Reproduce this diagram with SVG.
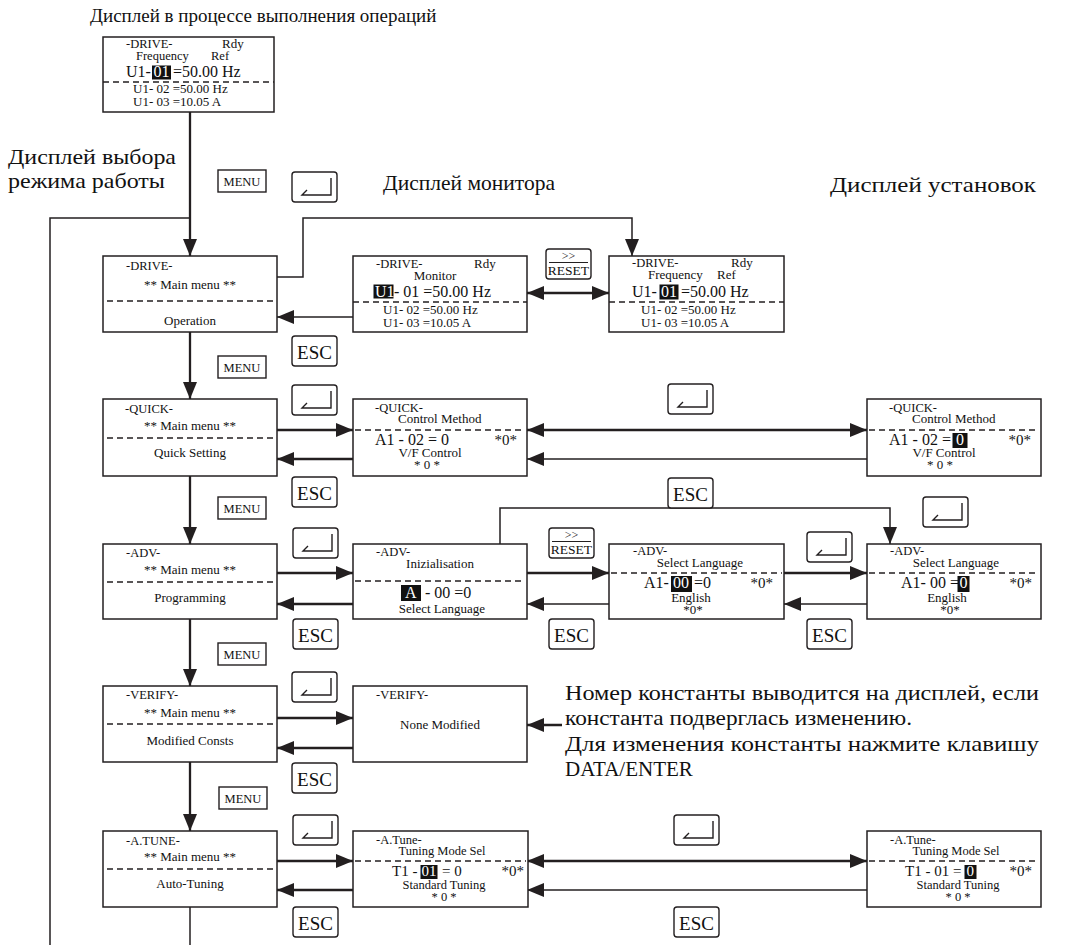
<svg xmlns="http://www.w3.org/2000/svg" xmlns:xlink="http://www.w3.org/1999/xlink" width="1068" height="945" viewBox="0 0 1068 945">
<style>
  text { font-family: "Liberation Serif", "Times New Roman", serif; fill: #111; }
  .box { fill: #fff; stroke: #231f20; stroke-width: 1.5; }
  .dash { stroke: #231f20; stroke-width: 1.4; stroke-dasharray: 6 4; fill: none; }
  .s { font-size: 13px; }
  .r { font-size: 12.5px; }
  .t { font-size: 12.5px; }
  .m { font-size: 16px; }
  .n { font-size: 15px; }
  .z { font-size: 15px; }
  .c { text-anchor: middle; }
  .e { text-anchor: end; }
  .w { fill: #fff; }
  .hl { fill: #111; }
  .key { fill: #fff; stroke: #231f20; stroke-width: 1.4; }
  .thick { fill: none; stroke: #231f20; stroke-width: 2.3; }
  .thin { fill: none; stroke: #231f20; stroke-width: 1.5; }
  .lab { font-size: 21px; }
  .ttl { font-size: 19px; }
</style>
<defs>
  <marker id="ah" markerUnits="userSpaceOnUse" markerWidth="17" markerHeight="14" refX="17" refY="7" orient="auto-start-reverse">
    <path d="M0,0 L17,7 L0,14 Z" fill="#231f20"/>
  </marker>
  <!-- keypad keys -->
  <g id="kEnter">
    <rect x="0" y="0" width="45" height="30" rx="3" class="key"/>
    <path d="M39,6 V23 H10 L15,18" fill="none" stroke="#231f20" stroke-width="1.4"/>
  </g>
  <g id="kEsc">
    <rect x="0" y="0" width="45" height="30" rx="3" class="key"/>
    <text x="22.5" y="23" class="c" font-size="19">ESC</text>
  </g>
  <g id="kMenu">
    <rect x="0" y="0" width="48" height="22" class="key"/>
    <text x="24" y="16" class="c" font-size="12.5">MENU</text>
  </g>
  <g id="kReset">
    <rect x="0" y="0" width="45" height="30" rx="3" class="key"/>
    <text x="22.5" y="11" class="c" font-size="12">&gt;&gt;</text>
    <line x1="3" y1="13.5" x2="42" y2="13.5" stroke="#231f20" stroke-width="1.2"/>
    <text x="22.5" y="26" class="c" font-size="13.5">RESET</text>
  </g>
</defs>

<rect width="1068" height="945" fill="#fff"/>

<!-- captions -->
<g id="captions">
  <text x="90" y="22" class="ttl">Дисплей в процессе выполнения операций</text>
  <text x="8" y="164" class="lab" font-size="22" textLength="168" lengthAdjust="spacingAndGlyphs">Дисплей выбора</text>
  <text x="8" y="188" class="lab" font-size="22" textLength="157" lengthAdjust="spacingAndGlyphs">режима работы</text>
  <text x="383" y="190" class="lab" textLength="172" lengthAdjust="spacingAndGlyphs">Дисплей монитора</text>
  <text x="830" y="192" class="lab" textLength="206" lengthAdjust="spacingAndGlyphs">Дисплей установок</text>
  <text x="565" y="700" class="lab" textLength="474" lengthAdjust="spacingAndGlyphs">Номер константы выводится на дисплей, если</text>
  <text x="565" y="725" class="lab" textLength="347" lengthAdjust="spacingAndGlyphs">константа подверглась изменению.</text>
  <text x="565" y="751" class="lab" textLength="474" lengthAdjust="spacingAndGlyphs">Для изменения константы нажмите клавишу</text>
  <text x="565" y="776" class="lab">DATA/ENTER</text>
</g>

<!-- connectors -->
<g id="connectors">
  <path d="M190,218 H50 V945" class="thin"/>
  <path d="M190,112 V256" class="thick" marker-end="url(#ah)"/>
  <path d="M277,277 H303 V218 H632 V256" class="thin" marker-end="url(#ah)"/>
  <path d="M353,317 H277" class="thin" marker-end="url(#ah)"/>
  <path d="M527,293 H609" class="thick" marker-start="url(#ah)" marker-end="url(#ah)"/>

  <path d="M190,332 V399" class="thick" marker-end="url(#ah)"/>
  <path d="M277,430 H353" class="thick" marker-end="url(#ah)"/>
  <path d="M353,459 H277" class="thick" marker-end="url(#ah)"/>
  <path d="M527,430 H867" class="thick" marker-start="url(#ah)" marker-end="url(#ah)"/>
  <path d="M867,459 H527" class="thin" marker-end="url(#ah)"/>

  <path d="M190,476 V544" class="thick" marker-end="url(#ah)"/>
  <path d="M277,573 H353" class="thick" marker-end="url(#ah)"/>
  <path d="M353,604 H277" class="thick" marker-end="url(#ah)"/>
  <path d="M527,573 H609" class="thick" marker-end="url(#ah)"/>
  <path d="M609,604 H527" class="thin" marker-end="url(#ah)"/>
  <path d="M784,573 H867" class="thick" marker-end="url(#ah)"/>
  <path d="M867,604 H784" class="thin" marker-end="url(#ah)"/>
  <path d="M500,544 V508 H890 V544" class="thin" marker-end="url(#ah)"/>

  <path d="M190,619 V686" class="thick" marker-end="url(#ah)"/>
  <path d="M277,718 H353" class="thick" marker-end="url(#ah)"/>
  <path d="M353,748 H277" class="thick" marker-end="url(#ah)"/>
  <path d="M562,725 H527" class="thick" marker-end="url(#ah)"/>

  <path d="M190,762 V831" class="thick" marker-end="url(#ah)"/>
  <path d="M277,861 H353" class="thick" marker-end="url(#ah)"/>
  <path d="M353,890 H277" class="thick" marker-end="url(#ah)"/>
  <path d="M527,861 H867" class="thick" marker-start="url(#ah)" marker-end="url(#ah)"/>
  <path d="M867,890 H527" class="thin" marker-end="url(#ah)"/>
  <path d="M190,907 V945" class="thin"/>
</g>

<!-- keys -->
<g id="keys">
  <use xlink:href="#kMenu" x="218" y="170"/>
  <use xlink:href="#kEnter" x="292" y="172"/>
  <use xlink:href="#kEsc" x="292" y="336"/>
  <use xlink:href="#kReset" x="546" y="249"/>
  <use xlink:href="#kMenu" x="218" y="356"/>
  <use xlink:href="#kEnter" x="292" y="385"/>
  <use xlink:href="#kEsc" x="292" y="477"/>
  <use xlink:href="#kEnter" x="668" y="384"/>
  <use xlink:href="#kEsc" x="668" y="478"/>
  <use xlink:href="#kMenu" x="218" y="497"/>
  <use xlink:href="#kEnter" x="293" y="528"/>
  <use xlink:href="#kEsc" x="293" y="619"/>
  <use xlink:href="#kReset" x="549" y="528"/>
  <use xlink:href="#kEsc" x="549" y="619"/>
  <use xlink:href="#kEnter" x="807" y="532"/>
  <use xlink:href="#kEsc" x="807" y="619"/>
  <use xlink:href="#kEnter" x="923" y="497"/>
  <use xlink:href="#kMenu" x="218" y="643"/>
  <use xlink:href="#kEnter" x="292" y="672"/>
  <use xlink:href="#kEsc" x="292" y="763"/>
  <use xlink:href="#kMenu" x="219" y="787"/>
  <use xlink:href="#kEnter" x="293" y="815"/>
  <use xlink:href="#kEsc" x="293" y="907"/>
  <use xlink:href="#kEnter" x="674" y="815"/>
  <use xlink:href="#kEsc" x="674" y="907"/>
</g>

<!-- operation display -->
<g id="op-display">
  <rect x="103" y="37" width="171" height="75" class="box"/>
  <text x="126" y="47.5" class="t">-DRIVE-</text>
  <text x="222" y="47.5" class="s">Rdy</text>
  <text x="136" y="59.5" class="r">Frequency</text>
  <text x="211" y="59.5" class="r">Ref</text>
  <text x="126" y="77" class="m">U1-</text>
  <rect x="152" y="65.5" width="19" height="14" class="hl"/>
  <text x="153.5" y="77" class="m w">01</text>
  <text x="173" y="77" class="m">=50.00 Hz</text>
  <line x1="103" y1="82" x2="274" y2="82" class="dash"/>
  <text x="133" y="93" class="s">U1- 02 =50.00 Hz</text>
  <text x="133" y="106" class="s">U1- 03 =10.05 A</text>
</g>

<!-- main menu: drive -->
<g id="menu-drive">
  <rect x="103" y="256" width="174" height="76" class="box"/>
  <text x="126" y="270" class="t">-DRIVE-</text>
  <text x="190" y="289" class="s c">** Main menu **</text>
  <line x1="107" y1="301" x2="273" y2="301" class="dash"/>
  <text x="190" y="325" class="s c">Operation</text>
</g>

<g id="monitor">
  <rect x="353" y="256" width="174" height="76" class="box"/>
  <text x="376" y="268" class="t">-DRIVE-</text>
  <text x="474" y="268" class="s">Rdy</text>
  <text x="435" y="280" class="s c">Monitor</text>
  <rect x="373.5" y="284.5" width="20" height="14" class="hl"/>
  <text x="375" y="297" class="m w">U1</text>
  <text x="394" y="297" class="m">- 01 =50.00 Hz</text>
  <line x1="353" y1="302" x2="527" y2="302" class="dash"/>
  <text x="383" y="314" class="s">U1- 02 =50.00 Hz</text>
  <text x="383" y="327" class="s">U1- 03 =10.05 A</text>
</g>

<g id="settings">
  <rect x="609" y="256" width="175" height="76" class="box"/>
  <text x="632" y="267" class="t">-DRIVE-</text>
  <text x="731" y="267" class="s">Rdy</text>
  <text x="648" y="279" class="s">Frequency</text>
  <text x="717" y="279" class="s">Ref</text>
  <text x="632" y="297" class="m">U1-</text>
  <rect x="659.5" y="284.5" width="19" height="15" class="hl"/>
  <text x="661" y="297" class="m w">01</text>
  <text x="681" y="297" class="m">=50.00 Hz</text>
  <line x1="609" y1="302" x2="784" y2="302" class="dash"/>
  <text x="641" y="314" class="s">U1- 02 =50.00 Hz</text>
  <text x="641" y="327" class="s">U1- 03 =10.05 A</text>
</g>

<!-- main menu: quick -->
<g id="menu-quick">
  <rect x="103" y="399" width="174" height="77" class="box"/>
  <text x="125" y="413" class="t">-QUICK-</text>
  <text x="190" y="430" class="s c">** Main menu **</text>
  <line x1="107" y1="438" x2="273" y2="438" class="dash"/>
  <text x="190" y="457" class="s c">Quick Setting</text>
</g>

<g id="quick-ctrl">
  <rect x="353" y="399" width="174" height="77" class="box"/>
  <text x="375" y="412" class="t">-QUICK-</text>
  <text x="398" y="423" class="s">Control Method</text>
  <line x1="355" y1="430" x2="525" y2="430" class="dash"/>
  <text x="375" y="445" class="m">A1 - 02 = 0</text>
  <text x="517" y="445" class="z e">*0*</text>
  <text x="430" y="457" class="s c">V/F Control</text>
  <text x="427" y="469" class="s c">* 0 *</text>
</g>

<g id="quick-ctrl-set">
  <rect x="867" y="399" width="174" height="77" class="box"/>
  <text x="889" y="412" class="t">-QUICK-</text>
  <text x="912" y="423" class="s">Control Method</text>
  <line x1="869" y1="430" x2="1039" y2="430" class="dash"/>
  <text x="889" y="445" class="m">A1 - 02 =</text>
  <rect x="952.5" y="433" width="15" height="15" class="hl"/>
  <text x="956" y="445" class="m w">0</text>
  <text x="1031" y="445" class="z e">*0*</text>
  <text x="944" y="457" class="s c">V/F Control</text>
  <text x="940" y="469" class="s c">* 0 *</text>
</g>

<!-- main menu: advanced -->
<g id="menu-adv">
  <rect x="103" y="544" width="174" height="75" class="box"/>
  <text x="126" y="557" class="t">-ADV-</text>
  <text x="190" y="574" class="s c">** Main menu **</text>
  <line x1="107" y1="582" x2="273" y2="582" class="dash"/>
  <text x="190" y="602" class="s c">Programming</text>
</g>

<g id="adv-init">
  <rect x="353" y="544" width="174" height="75" class="box"/>
  <text x="376" y="556" class="t">-ADV-</text>
  <text x="440" y="568" class="s c">Inizialisation</text>
  <line x1="355" y1="581" x2="525" y2="581" class="dash"/>
  <rect x="401" y="585" width="20" height="16" class="hl"/>
  <text x="405" y="598" class="m w">A</text>
  <text x="425" y="598" class="m">- 00 =0</text>
  <text x="442" y="613" class="s c">Select Language</text>
</g>

<g id="adv-lang">
  <rect x="609" y="544" width="175" height="75" class="box"/>
  <text x="633" y="555" class="t">-ADV-</text>
  <text x="700" y="567" class="s c">Select Language</text>
  <line x1="611" y1="573" x2="782" y2="573" class="dash"/>
  <text x="644" y="588" class="m">A1-</text>
  <rect x="671" y="576" width="21" height="16" class="hl"/>
  <text x="673" y="588" class="m w">00</text>
  <text x="694" y="588" class="m">=0</text>
  <text x="773" y="588" class="z e">*0*</text>
  <text x="691" y="602" class="s c">English</text>
  <text x="693" y="614" class="s c">*0*</text>
</g>

<g id="adv-lang-set">
  <rect x="867" y="544" width="174" height="75" class="box"/>
  <text x="890" y="555" class="t">-ADV-</text>
  <text x="956" y="567" class="s c">Select Language</text>
  <line x1="869" y1="573" x2="1039" y2="573" class="dash"/>
  <text x="901" y="588" class="m">A1- 00 =</text>
  <rect x="957.5" y="576" width="12" height="16" class="hl"/>
  <text x="959.5" y="588" class="m w">0</text>
  <text x="1032" y="588" class="z e">*0*</text>
  <text x="947" y="602" class="s c">English</text>
  <text x="950" y="614" class="s c">*0*</text>
</g>

<!-- main menu: verify -->
<g id="menu-verify">
  <rect x="103" y="686" width="174" height="76" class="box"/>
  <text x="126" y="699" class="t">-VERIFY-</text>
  <text x="190" y="717" class="s c">** Main menu **</text>
  <line x1="107" y1="724" x2="273" y2="724" class="dash"/>
  <text x="190" y="745" class="s c">Modified Consts</text>
</g>

<g id="verify-none">
  <rect x="353" y="686" width="174" height="76" class="box"/>
  <text x="376" y="699" class="t">-VERIFY-</text>
  <text x="440" y="729" class="s c">None Modified</text>
</g>

<!-- main menu: auto-tuning -->
<g id="menu-atune">
  <rect x="103" y="831" width="174" height="76" class="box"/>
  <text x="126" y="845" class="t">-A.TUNE-</text>
  <text x="190" y="861" class="s c">** Main menu **</text>
  <line x1="107" y1="869" x2="273" y2="869" class="dash"/>
  <text x="190" y="888" class="s c">Auto-Tuning</text>
</g>

<g id="atune-mode">
  <rect x="353" y="831" width="175" height="76" class="box"/>
  <text x="376" y="844" class="t">-A.Tune-</text>
  <text x="442" y="855" class="r c">Tuning Mode Sel</text>
  <line x1="355" y1="861" x2="526" y2="861" class="dash"/>
  <text x="392" y="876" class="n">T1 -</text>
  <rect x="420.5" y="865" width="17" height="14" class="hl"/>
  <text x="421.5" y="876" class="n w">01</text>
  <text x="442" y="876" class="n">= 0</text>
  <text x="524" y="876" class="z e">*0*</text>
  <text x="444" y="888.5" class="r c">Standard Tuning</text>
  <text x="444" y="901" class="r c">* 0 *</text>
</g>

<g id="atune-mode-set">
  <rect x="867" y="831" width="174" height="76" class="box"/>
  <text x="890" y="844" class="t">-A.Tune-</text>
  <text x="956" y="855" class="r c">Tuning Mode Sel</text>
  <line x1="869" y1="861" x2="1039" y2="861" class="dash"/>
  <text x="905" y="876" class="n">T1 - 01 =</text>
  <rect x="964.5" y="865" width="12" height="14" class="hl"/>
  <text x="966.5" y="876" class="n w">0</text>
  <text x="1032" y="876" class="z e">*0*</text>
  <text x="958" y="888.5" class="r c">Standard Tuning</text>
  <text x="958" y="901" class="r c">* 0 *</text>
</g>
</svg>
